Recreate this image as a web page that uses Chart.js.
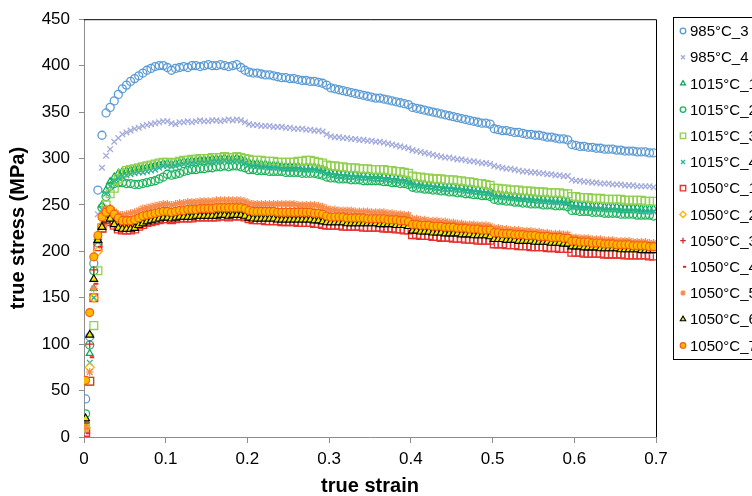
<!DOCTYPE html>
<html>
<head>
<meta charset="utf-8">
<title>Flow curves</title>
<script src="https://cdn.jsdelivr.net/npm/chart.js@4.4.1/dist/chart.umd.min.js"></script>
<style>
  html, body { margin: 0; padding: 0; background: #fff; overflow: hidden; }
  #wrap { width: 752px; height: 496px; }
</style>
</head>
<body>
<div id="wrap"><canvas id="flowChart" width="752" height="496"></canvas></div>
<script>
// true strain, shared by every test
var strain = [
  0.002,0.007,0.012,0.017,0.022,0.027,0.032,0.037,0.042,0.047,
  0.052,0.057,0.062,0.067,0.072,0.077,0.082,0.087,0.092,0.097,
  0.102,0.107,0.112,0.117,0.122,0.127,0.132,0.137,0.142,0.147,
  0.152,0.157,0.162,0.167,0.172,0.177,0.182,0.187,0.192,0.197,
  0.202,0.207,0.212,0.217,0.222,0.227,0.232,0.237,0.242,0.247,
  0.252,0.257,0.262,0.267,0.272,0.277,0.282,0.287,0.292,0.297,
  0.302,0.307,0.312,0.317,0.322,0.327,0.332,0.337,0.342,0.347,
  0.352,0.357,0.362,0.367,0.372,0.377,0.382,0.387,0.392,0.397,
  0.402,0.407,0.412,0.417,0.422,0.427,0.432,0.437,0.442,0.447,
  0.452,0.457,0.462,0.467,0.472,0.477,0.482,0.487,0.492,0.497,
  0.502,0.507,0.512,0.517,0.522,0.527,0.532,0.537,0.542,0.547,
  0.552,0.557,0.562,0.567,0.572,0.577,0.582,0.587,0.592,0.597,
  0.602,0.607,0.612,0.617,0.622,0.627,0.632,0.637,0.642,0.647,
  0.652,0.657,0.662,0.667,0.672,0.677,0.682,0.687,0.692,0.697
];

// true stress (MPa) per test
var s985_3 = [
  41,108,187,266,325,349,355,
  362,369,375,379,383,386,389,392,395,397,399,400,400,
  398,395,397,398,
  399,398,400,400,399,400,401,400,400,401,400,399,400,401,
  398,395,
  393,392,392,391,390,390,389,388,
  387,387,386,386,385,384,384,383,
  383,382,381,379,
  376,375,374,373,372,371,370,369,368,367,366,365,
  365,364,363,362,361,360,359,358,
  355,354,353,352,351,350,349,348,347,346,
  345,344,343,342,341,340,339,338,338,337,
  332,331,330,330,329,328,328,327,326,326,
  325,325,324,323,323,322,321,321,320,
  315,314,313,313,312,312,311,311,310,
  310,310,309,309,308,308,308,307,307,307,306,306
];
var s985_4 = [
  12,70,150,240,290,303,310,
  318,322,326,328,330,332,333,335,336,337,338,339,340,
  340,338,337,339,
  339,340,339,340,341,340,340,341,341,340,341,342,341,342,
  341,339,
  337,336,336,335,335,335,334,334,
  334,333,333,332,332,332,331,331,
  330,330,329,326,
  324,323,323,322,322,321,321,320,320,319,319,318,
  318,317,316,315,314,313,312,311,
  309,308,307,306,305,304,303,302,301,301,
  300,299,299,298,297,297,296,295,295,294,
  292,291,290,289,289,288,287,286,286,285,
  285,284,284,283,283,282,282,281,281,
  277,276,276,275,275,274,274,273,273,
  273,272,272,272,271,271,271,270,270,270,270,269
];
var s1015_1 = [
  18,90,160,215,250,266,275,
  280,284,286,287,288,289,290,290,291,292,293,294,295,
  295,294,295,296,
  297,297,298,298,299,299,299,300,300,300,301,300,300,301,
  300,298,
  296,295,295,294,294,293,293,293,
  292,292,292,292,292,291,291,291,
  291,290,289,287,
  285,285,284,284,283,283,283,282,282,282,281,281,
  281,281,280,280,279,279,278,277,
  274,274,273,273,272,272,271,271,270,270,
  270,269,269,268,268,267,267,266,266,265,
  262,262,261,261,260,260,259,259,259,258,
  258,257,257,257,256,256,256,255,255,
  251,251,250,250,250,249,249,249,248,
  248,248,248,247,247,247,247,247,246,246,246,246
];
var s1015_2 = [
  25,99,179,209,247,259,270,
  273,274,274,273,273,272,272,273,274,275,276,278,280,
  283,282,283,284,
  286,287,288,288,289,289,290,290,291,291,292,291,292,292,
  291,290,
  288,288,287,287,287,286,286,286,
  286,285,285,285,285,284,284,284,
  284,283,282,280,
  279,279,278,278,278,277,277,277,276,276,276,276,
  276,275,275,274,274,273,273,272,
  269,268,268,267,267,266,266,265,265,264,
  264,263,263,262,262,261,261,260,260,259,
  256,255,255,254,254,253,253,252,252,251,
  251,251,250,250,250,249,249,249,248,
  244,244,243,243,243,242,242,242,241,
  241,241,241,240,240,240,240,239,239,239,239,238
];
var s1015_3 = [
  10,60,120,179,225,250,262,
  268,278,284,287,288,289,290,291,292,293,294,295,296,
  296,295,296,297,
  298,298,299,299,300,300,300,301,301,301,302,301,301,302,
  301,300,
  299,298,298,298,297,297,297,296,
  296,296,296,296,297,297,298,298,
  297,296,295,293,
  292,292,291,291,290,290,290,289,289,289,288,288,
  288,288,287,287,286,286,285,284,
  281,280,280,279,279,278,278,278,277,277,
  277,276,276,275,275,274,273,273,272,271,
  268,268,267,267,266,266,266,265,265,265,
  264,264,264,263,263,263,263,262,262,
  259,259,258,258,258,257,257,257,256,
  256,256,256,256,255,255,255,255,255,254,254,254
];
var s1015_4 = [
  15,80,150,210,245,262,270,
  276,279,281,282,283,284,285,285,286,287,288,290,292,
  292,291,292,293,
  294,294,295,295,296,296,296,297,297,297,298,297,297,298,
  297,295,
  293,292,292,291,291,290,290,290,
  289,289,289,289,289,288,288,288,
  288,287,286,284,
  282,282,281,281,280,280,280,279,279,279,278,278,
  278,278,277,277,276,276,275,274,
  271,271,270,270,269,269,268,268,267,267,
  267,266,266,265,265,264,264,263,263,262,
  259,259,258,258,257,257,256,256,256,255,
  255,254,254,254,253,253,253,252,252,
  248,248,247,247,247,246,246,246,245,
  245,245,245,244,244,244,244,244,243,243,243,243
];
var s1050_1 = [
  5,60,150,205,225,232,234,
  228,224,223,223,223,224,227,229,231,232,233,234,235,
  235,234,235,236,
  236,236,236,237,237,237,237,237,237,238,238,237,238,238,
  238,237,
  235,234,234,234,233,233,233,233,
  232,232,232,232,231,231,231,231,
  230,230,229,228,
  228,228,228,227,227,227,227,227,226,226,226,226,
  226,225,225,225,224,224,223,223,
  218,218,217,217,217,216,216,215,215,215,
  214,214,214,213,213,213,212,212,212,212,
  208,208,208,207,207,207,206,206,206,205,
  205,205,205,204,204,204,203,203,203,
  199,199,199,198,198,198,198,198,197,
  197,197,197,197,196,196,196,196,196,196,195,195
];
var s1050_2 = [
  10,75,150,200,228,238,242,
  237,233,230,230,230,231,233,235,236,237,238,239,240,
  240,239,240,241,
  241,242,242,242,243,243,243,243,244,244,244,244,244,244,
  244,243,
  241,240,240,240,240,240,240,239,
  239,239,239,239,239,239,239,239,
  238,238,237,235,
  234,234,234,234,233,233,233,233,233,232,232,232,
  232,232,231,231,231,230,230,229,
  226,226,225,225,225,224,224,224,223,223,
  223,222,222,222,221,221,221,220,220,220,
  217,217,216,216,216,215,215,215,214,214,
  214,213,213,213,212,212,212,211,211,
  208,208,207,207,207,206,206,206,205,
  205,205,204,204,204,204,203,203,203,203,202,202
];
var s1050_3 = [
  15,100,180,215,235,244,246,
  243,238,235,235,235,236,238,240,241,242,243,244,245,
  245,244,245,246,
  246,247,247,247,248,248,248,248,249,249,249,249,249,249,
  249,248,
  246,245,245,245,245,245,245,244,
  244,244,244,244,244,244,244,244,
  243,243,242,240,
  239,239,239,239,238,238,238,238,238,237,237,237,
  237,237,236,236,236,235,235,234,
  231,231,230,230,230,229,229,229,228,228,
  228,227,227,227,226,226,226,225,225,225,
  222,222,221,221,221,220,220,220,219,219,
  219,218,218,218,217,217,217,216,216,
  213,213,212,212,212,211,211,211,210,
  210,210,209,209,209,209,208,208,208,208,207,207
];
var s1050_4 = [
  4,86,165,205,230,240,243,
  239,235,232,232,232,233,235,237,238,239,240,241,242,
  242,241,242,243,
  243,244,244,244,245,245,245,245,246,246,246,246,246,246,
  246,245,
  243,242,242,242,242,242,242,241,
  241,241,241,241,241,241,241,241,
  240,240,239,237,
  236,236,236,236,235,235,235,235,235,234,234,234,
  234,234,233,233,233,232,232,231,
  228,228,227,227,227,226,226,226,225,225,
  225,224,224,224,223,223,223,222,222,222,
  219,219,218,218,218,217,217,217,216,216,
  216,215,215,215,214,214,214,213,213,
  210,210,209,209,209,208,208,208,207,
  207,207,206,206,206,206,205,205,205,205,204,204
];
var s1050_5 = [
  10,70,160,215,240,246,246,
  243,240,239,240,241,242,244,246,247,248,249,250,251,
  251,250,251,252,
  252,253,253,253,254,254,254,254,255,255,255,255,255,255,
  255,254,
  252,251,251,251,251,251,251,251,
  251,251,251,251,250,250,250,250,
  250,249,248,246,
  245,245,244,244,244,244,243,243,243,243,242,242,
  242,242,241,241,240,240,239,239,
  235,235,234,234,233,233,233,232,232,231,
  231,230,230,229,229,229,228,228,228,227,
  225,225,224,224,223,223,223,222,222,222,
  221,221,220,220,219,219,219,218,218,
  215,215,214,214,214,213,213,213,212,
  212,212,211,211,211,211,210,210,210,210,209,209
];
var s1050_6 = [
  20,110,170,212,226,234,235,
  229,225,224,224,224,225,228,230,232,233,234,235,236,
  236,235,236,237,
  237,237,237,238,238,238,238,238,238,239,239,238,239,239,
  239,238,
  236,235,235,235,235,235,235,234,
  234,234,234,234,234,234,234,234,
  233,233,232,231,
  231,231,231,231,230,230,230,230,230,230,230,230,
  229,229,229,229,228,228,228,227,
  222,222,221,221,221,220,220,220,219,219,
  219,219,218,218,218,217,217,217,217,216,
  213,213,213,212,212,212,211,211,211,211,
  210,210,210,210,209,209,209,208,208,
  205,205,205,204,204,204,204,203,203,
  203,203,203,202,202,202,202,202,201,201,201,201
];
var s1050_7 = [
  61,134,194,217,237,242,245,
  240,236,233,233,233,234,236,238,239,240,241,242,243,
  243,242,243,244,
  244,245,245,245,246,246,246,246,247,247,247,247,247,247,
  247,246,
  244,243,243,243,243,243,243,242,
  242,242,242,242,242,242,242,242,
  241,241,240,238,
  237,237,237,237,236,236,236,236,236,235,235,235,
  235,235,234,234,234,233,233,232,
  229,229,228,228,228,227,227,227,226,226,
  226,225,225,225,224,224,224,223,223,223,
  220,220,219,219,219,218,218,218,217,217,
  217,216,216,216,215,215,215,214,214,
  211,211,210,210,210,209,209,209,208,
  208,208,207,207,207,207,206,206,206,206,205,205
];

var labels = ['985°C_3','985°C_4','1015°C_1','1015°C_2','1015°C_3','1015°C_4',
  '1050°C_1','1050°C_2','1050°C_3','1050°C_4','1050°C_5','1050°C_6','1050°C_7'];
var stressSets = [s985_3, s985_4, s1015_1, s1015_2, s1015_3, s1015_4,
  s1050_1, s1050_2, s1050_3, s1050_4, s1050_5, s1050_6, s1050_7];
var xTicks = [0, 0.1, 0.2, 0.3, 0.4, 0.5, 0.6, 0.7];

// marker look for each test
var markers = [
  { style: 'circle',   r: 4,   line: '#5B9BD5', fill: 'rgba(0,0,0,0)', w: 1.3 },
  { style: 'crossRot', r: 4,   line: '#A3ABDC', fill: 'rgba(0,0,0,0)', w: 1.3 },
  { style: 'triangle', r: 4,   line: '#00A550', fill: 'rgba(0,0,0,0)', w: 1.2 },
  { style: 'circle',   r: 4,   line: '#1DB45A', fill: 'rgba(0,0,0,0)', w: 1.3 },
  { style: 'rect',     r: 5.5, line: '#92D050', fill: 'rgba(0,0,0,0)', w: 1.3 },
  { style: 'crossRot', r: 4,   line: '#2BB596', fill: 'rgba(0,0,0,0)', w: 1.3 },
  { style: 'rect',     r: 5.5, line: '#E8302C', fill: 'rgba(0,0,0,0)', w: 1.3 },
  { style: 'rectRot',  r: 4.5, line: '#FFB300', fill: 'rgba(0,0,0,0)', w: 1.3 },
  { style: 'cross',    r: 4,   line: '#D02A2A', fill: 'rgba(0,0,0,0)', w: 1.3 },
  { style: 'dash',     r: 4.5, line: '#FF1A1A', fill: 'rgba(0,0,0,0)', w: 2 },
  { style: 'star',     r: 4,   line: '#F58A4A', fill: 'rgba(0,0,0,0)', w: 1.2 },
  { style: 'triangle', r: 4.5, line: '#000000', fill: '#F0E400',       w: 1.1 },
  { style: 'circle',   r: 4,   line: '#F55A10', fill: '#FFB800',       w: 1.1 }
];

var FONT = "'Liberation Sans', Arial, sans-serif";
Chart.defaults.font.family = FONT;
Chart.defaults.color = '#000';

var datasets = labels.map(function(name, i) {
  var m = markers[i];
  return {
    label: name,
    data: stressSets[i].map(function(v, k) { return { x: strain[k], y: v }; }),
    showLine: false,
    pointStyle: m.style,
    pointRadius: m.r,
    pointHoverRadius: m.r,
    pointBorderColor: m.line,
    pointBackgroundColor: m.fill,
    pointBorderWidth: m.w,
    order: labels.length - 1 - i   // later tests sit on top
  };
});

// top and right edge of the plot area
var plotFrame = {
  id: 'plotFrame',
  afterDraw: function(chart) {
    var a = chart.chartArea, ctx = chart.ctx;
    ctx.save();
    ctx.strokeStyle = '#000';
    ctx.lineWidth = 1;
    ctx.beginPath();
    ctx.moveTo(a.left, a.top + 0.5);
    ctx.lineTo(a.right + 0.5, a.top + 0.5);
    ctx.lineTo(a.right + 0.5, a.bottom);
    ctx.stroke();
    ctx.restore();
  }
};

// boxed legend at the right
var boxLegend = {
  id: 'boxLegend',
  afterDraw: function(chart) {
    var ctx = chart.ctx;
    var left = 673.5, top = 17.5, rowH = 26.2;
    ctx.save();
    ctx.strokeStyle = '#000';
    ctx.lineWidth = 1;
    ctx.strokeRect(left, top, 140, 342);
    ctx.font = '15px ' + FONT;
    ctx.textBaseline = 'middle';
    ctx.textAlign = 'left';
    labels.forEach(function(name, i) {
      var m = markers[i];
      var y = 31 + i * rowH;
      ctx.strokeStyle = m.line;
      ctx.fillStyle = m.fill;
      ctx.lineWidth = m.w;
      Chart.helpers.drawPoint(ctx, {
        pointStyle: m.style, radius: m.r * 0.7, rotation: 0, borderWidth: m.w
      }, 683, y);
      ctx.fillStyle = '#000';
      ctx.fillText(name, 690, y + 1);
    });
    ctx.restore();
  }
};

var ctx = document.getElementById('flowChart').getContext('2d');
var flowChart = new Chart(ctx, {
  type: 'scatter',
  data: { datasets: datasets },
  plugins: [plotFrame, boxLegend],
  options: {
    responsive: false,
    animation: false,
    devicePixelRatio: 1,
    layout: { padding: { top: 18, right: 96, left: 0, bottom: 0 } },
    plugins: {
      legend: { display: false },
      tooltip: { enabled: false }
    },
    scales: {
      x: {
        type: 'linear',
        min: 0,
        max: 0.7,
        afterBuildTicks: function(scale) {
          scale.ticks = xTicks.map(function(v) { return { value: v }; });
        },
        afterFit: function(scale) { scale.height = 59; },
        grid: { drawOnChartArea: false, drawTicks: true, tickLength: 6, color: '#8C8C8C' },
        border: { display: true, color: '#8C8C8C', width: 1 },
        ticks: {
          font: { size: 17 },
          padding: 6,
          maxRotation: 0,
          callback: function(v) { return String(Math.round(v * 10) / 10); }
        },
        title: {
          display: true,
          text: 'true strain',
          font: { size: 20, weight: 'bold', lineHeight: 1 },
          padding: { top: 0, bottom: 0 }
        }
      },
      y: {
        min: 0,
        max: 450,
        afterFit: function(scale) { scale.width = 84; },
        grid: { drawOnChartArea: false, drawTicks: true, tickLength: 5, color: '#8C8C8C' },
        border: { display: true, color: '#8C8C8C', width: 1 },
        ticks: { stepSize: 50, font: { size: 17 }, padding: 9 },
        title: {
          display: true,
          text: 'true stress (MPa)',
          font: { size: 20, weight: 'bold', lineHeight: 1 },
          padding: { top: 8, bottom: 0 }
        }
      }
    }
  }
});
</script>
</body>
</html>
